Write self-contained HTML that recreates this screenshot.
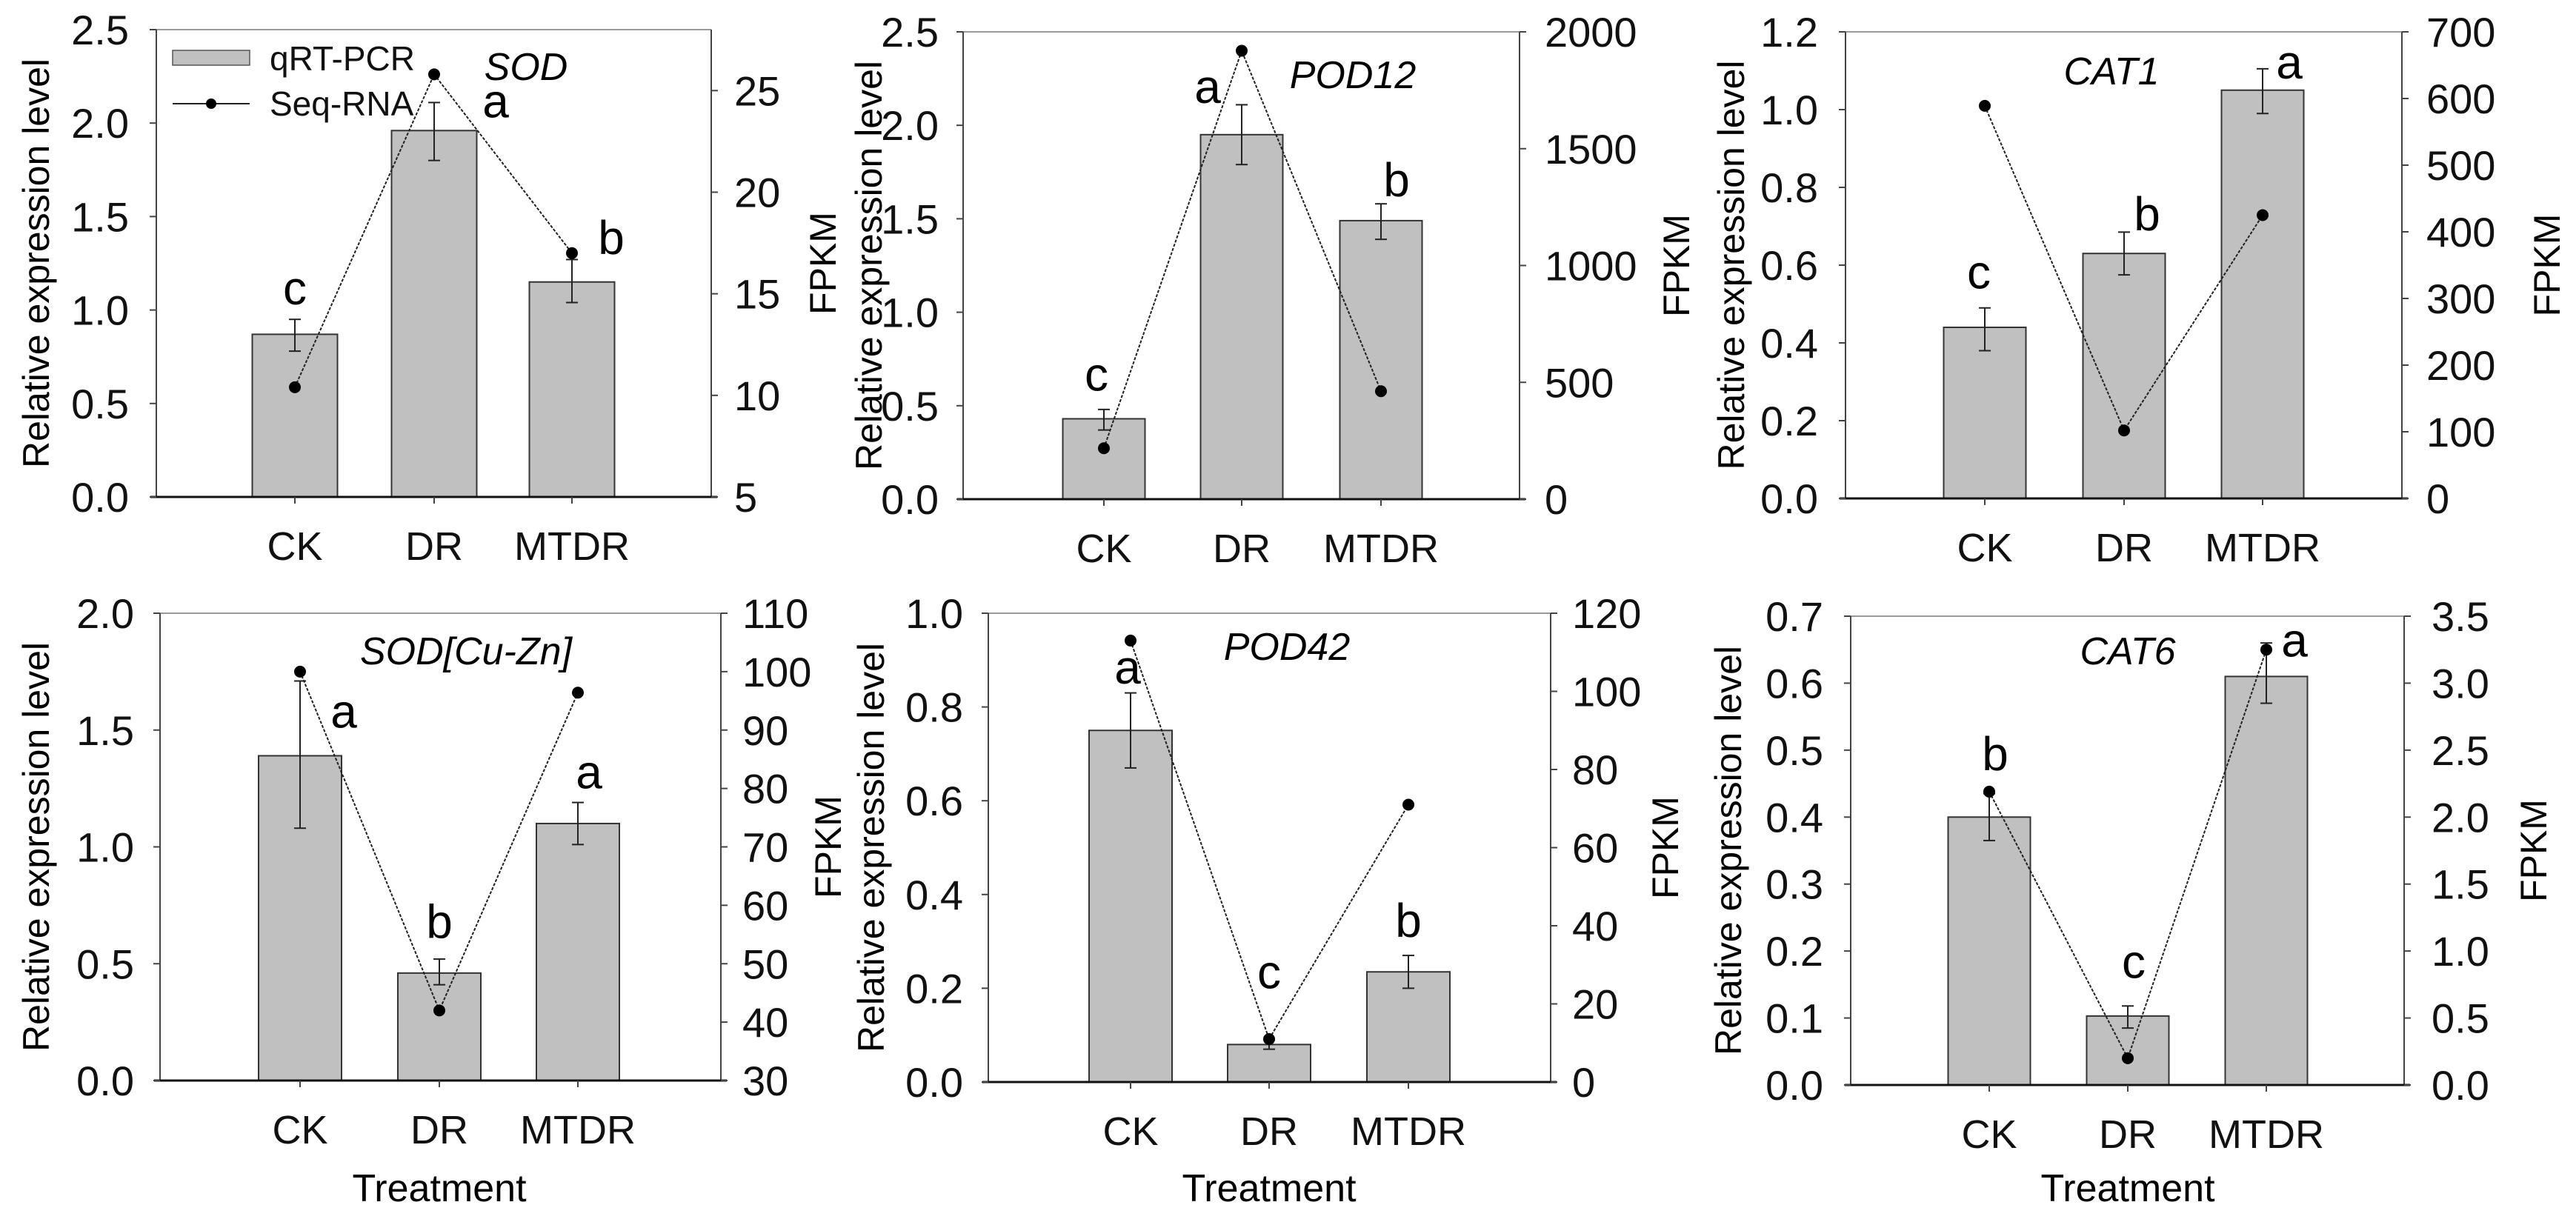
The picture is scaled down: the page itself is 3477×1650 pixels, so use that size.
<!DOCTYPE html>
<html><head><meta charset="utf-8">
<style>
html,body{margin:0;padding:0;background:#fff;}
svg{display:block;font-family:"Liberation Sans",Arial,sans-serif;}
</style></head>
<body>
<svg id="fig" width="3477" height="1650" viewBox="0 0 3477 1650" xmlns="http://www.w3.org/2000/svg"></svg>
<script>
const categories = ["CK","DR","MTDR"];
const geneNames = ["SOD","POD12","CAT1","SOD[Cu-Zn]","POD42","CAT6"];
// qRT-PCR bar values and error bounds
const barSOD = [0.87,1.96,1.15];      const errLoSOD = [0.78,1.80,1.04];   const errHiSOD = [0.95,2.11,1.27];
const barPOD12 = [0.43,1.95,1.49];    const errLoPOD12 = [0.37,1.79,1.39]; const errHiPOD12 = [0.48,2.11,1.58];
const barCAT1 = [0.44,0.63,1.05];     const errLoCAT1 = [0.38,0.575,0.99]; const errHiCAT1 = [0.49,0.685,1.105];
const barSODCZ = [1.39,0.46,1.10];    const errLoSODCZ = [1.08,0.41,1.01]; const errHiSODCZ = [1.71,0.52,1.19];
const barPOD42 = [0.75,0.08,0.235];   const errLoPOD42 = [0.67,0.07,0.20]; const errHiPOD42 = [0.83,0.09,0.27];
const barCAT6 = [0.40,0.103,0.61];    const errLoCAT6 = [0.365,0.085,0.57];const errHiCAT6 = [0.435,0.118,0.66];
// Seq-RNA FPKM values
const fpkmSOD = [10.4,25.8,17.0];
const fpkmPOD12 = [218,1919,462];
const fpkmCAT1 = [589,102,425];
const fpkmSODCZ = [100,42,96.4];
const fpkmPOD42 = [113,11,71];
const fpkmCAT6 = [2.19,0.2,3.25];
// significance letters
const lettersSOD = ["c","a","b"];   const letterYSOD = [1.03,2.03,1.30];
const lettersPOD12 = ["c","a","b"]; const letterYPOD12 = [0.58,2.12,1.62];
const lettersCAT1 = ["c","b","a"];  const letterYCAT1 = [0.54,0.69,1.08];
const lettersSODCZ = ["a","b","a"]; const letterYSODCZ = [1.51,0.61,1.25];
const lettersPOD42 = ["a","c","b"]; const letterYPOD42 = [0.85,0.20,0.31];
const lettersCAT6 = ["b","c","a"];  const letterYCAT6 = [0.47,0.16,0.64];
// axis ticks
const leftTicksSOD = [0,0.5,1.0,1.5,2.0,2.5];   const rightTicksSOD = [5,10,15,20,25];
const leftTicksPOD12 = [0,0.5,1.0,1.5,2.0,2.5]; const rightTicksPOD12 = [0,500,1000,1500,2000];
const leftTicksCAT1 = [0,0.2,0.4,0.6,0.8,1.0,1.2]; const rightTicksCAT1 = [0,100,200,300,400,500,600,700];
const leftTicksSODCZ = [0,0.5,1.0,1.5,2.0];     const rightTicksSODCZ = [30,40,50,60,70,80,90,100,110];
const leftTicksPOD42 = [0,0.2,0.4,0.6,0.8,1.0]; const rightTicksPOD42 = [0,20,40,60,80,100,120];
const leftTicksCAT6 = [0,0.1,0.2,0.3,0.4,0.5,0.6,0.7]; const rightTicksCAT6 = [0,0.5,1.0,1.5,2.0,2.5,3.0,3.5];

const NS="http://www.w3.org/2000/svg";
const svg=document.getElementById('fig');
function mk(tag,attrs,parent,text){const e=document.createElementNS(NS,tag);for(const k in attrs)e.setAttribute(k,attrs[k]);if(text!==undefined)e.textContent=text;(parent||svg).appendChild(e);return e;}

const panels=[
 {id:"sod",L:211,R:960,T:40,B:671,lMin:0,lMax:2.5,rMin:5,rMax:28,bx:[398,586,772],bw:115,dec:1,rdec:0,bar:barSOD,lo:errLoSOD,hi:errHiSOD,fp:fpkmSOD,let:lettersSOD,ly:letterYSOD,ldx:[0,83,53],lt:leftTicksSOD,rt:rightTicksSOD,tx:710,ty:108,ylx:48,frx:1110,lre:174,rle:991,legend:true,treat:false},
 {id:"pod12",L:1300,R:2051,T:43,B:674,lMin:0,lMax:2.5,rMin:0,rMax:2000,bx:[1490,1676,1864],bw:111,dec:1,rdec:0,bar:barPOD12,lo:errLoPOD12,hi:errHiPOD12,fp:fpkmPOD12,let:lettersPOD12,ly:letterYPOD12,ldx:[-10,-46,21],lt:leftTicksPOD12,rt:rightTicksPOD12,tx:1826,ty:119,ylx:1172,frx:2262,lre:1267,rle:2085,legend:false,treat:false},
 {id:"cat1",L:2491,R:3242,T:43,B:673,lMin:0,lMax:1.2,rMin:0,rMax:700,bx:[2679,2867,3054],bw:111,dec:1,rdec:0,bar:barCAT1,lo:errLoCAT1,hi:errHiCAT1,fp:fpkmCAT1,let:lettersCAT1,ly:letterYCAT1,ldx:[-8,31,36],lt:leftTicksCAT1,rt:rightTicksCAT1,tx:2850,ty:114,ylx:2336,frx:3437,lre:2454,rle:3275,legend:false,treat:false},
 {id:"sodcz",L:216,R:973,T:828,B:1459,lMin:0,lMax:2.0,rMin:30,rMax:110,bx:[405,593,780],bw:112,dec:1,rdec:0,bar:barSODCZ,lo:errLoSODCZ,hi:errHiSODCZ,fp:fpkmSODCZ,let:lettersSODCZ,ly:letterYSODCZ,ldx:[59,0,15],lt:leftTicksSODCZ,rt:rightTicksSODCZ,tx:629,ty:897,ylx:48,frx:1117,lre:181,rle:1002,legend:false,treat:true},
 {id:"pod42",L:1334,R:2093,T:828,B:1461,lMin:0,lMax:1.0,rMin:0,rMax:120,bx:[1526,1713,1901],bw:112,dec:1,rdec:0,bar:barPOD42,lo:errLoPOD42,hi:errHiPOD42,fp:fpkmPOD42,let:lettersPOD42,ly:letterYPOD42,ldx:[-4,0,0],lt:leftTicksPOD42,rt:rightTicksPOD42,tx:1737,ty:891,ylx:1175,frx:2247,lre:1300,rle:2122,legend:false,treat:true},
 {id:"cat6",L:2498,R:3245,T:832,B:1465,lMin:0,lMax:0.7,rMin:0,rMax:3.5,bx:[2685,2872,3059],bw:111,dec:1,rdec:1,bar:barCAT6,lo:errLoCAT6,hi:errHiCAT6,fp:fpkmCAT6,let:lettersCAT6,ly:letterYCAT6,ldx:[8,8,38],lt:leftTicksCAT6,rt:rightTicksCAT6,tx:2872,ty:897,ylx:2332,frx:3419,lre:2461,rle:3282,legend:false,treat:true}
];

panels.forEach((p,pi)=>{
  const g=mk('g',{});
  
  
  const yL=v=>p.B-(v-p.lMin)/(p.lMax-p.lMin)*(p.B-p.T);
  const yR=v=>p.B-(v-p.rMin)/(p.rMax-p.rMin)*(p.B-p.T);
  // frame
  const top=mk('line',{x1:p.L,y1:p.T,x2:p.R,y2:p.T,stroke:'#999','stroke-width':2},g);
  
  // bars
  p.bar.forEach((v,i)=>{
    const r=mk('rect',{x:p.bx[i]-p.bw/2,y:yL(v),width:p.bw,height:p.B-yL(v),fill:'#c0c0c0',stroke:'#333','stroke-width':2},g);
    
    
  });
  // error bars
  p.bar.forEach((v,i)=>{
    const eg=mk('g',{stroke:'#222','stroke-width':2},g);
    
    
    const x=p.bx[i];
    mk('line',{x1:x,y1:yL(p.lo[i]),x2:x,y2:yL(p.hi[i])},eg);
    mk('line',{x1:x-8,y1:yL(p.lo[i]),x2:x+8,y2:yL(p.lo[i])},eg);
    mk('line',{x1:x-8,y1:yL(p.hi[i]),x2:x+8,y2:yL(p.hi[i])},eg);
  });
  // axes
  const la=mk('line',{x1:p.L,y1:p.T,x2:p.L,y2:p.B,stroke:'#444','stroke-width':2},g);
  
  const ra=mk('line',{x1:p.R,y1:p.T,x2:p.R,y2:p.B,stroke:'#444','stroke-width':2},g);
  
  const xa=mk('line',{x1:p.L-8,y1:p.B,x2:p.R+8,y2:p.B,stroke:'#111','stroke-width':3},g);
  
  // left ticks
  p.lt.forEach(v=>{
    mk('line',{x1:p.L-9,y1:yL(v),x2:p.L,y2:yL(v),stroke:'#444','stroke-width':2},g);
    const t=mk('text',{x:p.lre,y:yL(v)+20,'font-size':56,'text-anchor':'end',fill:'#111'},g,v.toFixed(p.dec));
    
  });
  p.rt.forEach(v=>{
    mk('line',{x1:p.R,y1:yR(v),x2:p.R+9,y2:yR(v),stroke:'#444','stroke-width':2},g);
    const t=mk('text',{x:p.rle,y:yR(v)+20,'font-size':56,'text-anchor':'start',fill:'#111'},g,v.toFixed(p.rdec));
    
  });
  // x ticks & labels
  categories.forEach((c,i)=>{
    mk('line',{x1:p.bx[i],y1:p.B,x2:p.bx[i],y2:p.B+9,stroke:'#444','stroke-width':2},g);
    const t=mk('text',{x:p.bx[i],y:p.B+85,'font-size':54,'text-anchor':'middle',fill:'#111'},g,c);
    
  });
  // FPKM line
  const pts=p.fp.map((v,i)=>p.bx[i]+','+yR(v)).join(' ');
  const pl=mk('polyline',{points:pts,fill:'none',stroke:'#222','stroke-width':2,'stroke-dasharray':'4 2'},g);
  
  p.fp.forEach((v,i)=>{
    const c=mk('circle',{cx:p.bx[i],cy:yR(v),r:8,fill:'#000'},g);
    
  });
  // letters
  p.let.forEach((s,i)=>{
    const t=mk('text',{x:p.bx[i]+p.ldx[i],y:yL(p.ly[i]),'font-size':64,'text-anchor':'middle',fill:'#000'},g,s);
    
  });
  // title
  const tt=mk('text',{x:p.tx,y:p.ty,'font-size':52,'font-style':'italic','text-anchor':'middle',fill:'#000'},g,geneNames[pi]);
  
  // y labels
  const cy=(p.T+p.B)/2;
  const yl=mk('text',{x:0,y:0,'font-size':50,'text-anchor':'middle',fill:'#000',transform:'translate('+(p.ylx+18)+','+cy+') rotate(-90)'},g,'Relative expression level');
  
  const fl=mk('text',{x:0,y:0,'font-size':50,'text-anchor':'middle',fill:'#000',transform:'translate('+(p.frx+18)+','+cy+') rotate(-90)'},g,'FPKM');
  
  if(p.treat){
    const tr=mk('text',{x:p.bx[1],y:1622,'font-size':52,'text-anchor':'middle',fill:'#000'},g,'Treatment');
    
  }
  if(p.legend){
    const lg=mk('g',{},g);
    
    const e1=mk('g',{},lg);
    
    mk('rect',{x:233,y:68,width:104,height:20,fill:'#c0c0c0',stroke:'#555','stroke-width':1.5},e1);
    mk('text',{x:364,y:95,'font-size':46,fill:'#111'},e1,'qRT-PCR');
    const e2=mk('g',{},lg);
    
    mk('line',{x1:233,y1:140,x2:337,y2:140,stroke:'#222','stroke-width':2},e2);
    mk('circle',{cx:285,cy:140,r:7,fill:'#000'},e2);
    mk('text',{x:364,y:156,'font-size':46,fill:'#111'},e2,'Seq-RNA');
  }
});
</script>
</body></html>
